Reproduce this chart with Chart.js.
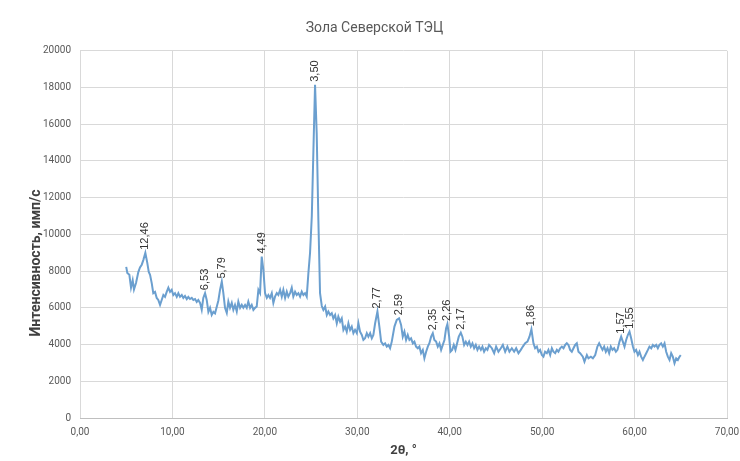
<!DOCTYPE html>
<html>
<head>
<meta charset="utf-8">
<title>Зола Северской ТЭЦ</title>
<script src="https://cdn.jsdelivr.net/npm/chart.js@4"></script>
<style>
    body { margin: 0; background: #ffffff; }
    #wrap { width: 740px; height: 461px; }
</style>
</head>
<body>
<div id="wrap"><canvas id="myChart" width="740" height="461"></canvas></div>
<script>
// datos
const twoTheta = [
    5.00, 5.12, 5.34, 5.52, 5.70, 5.84, 6.06, 6.31, 6.49, 6.68,
    6.85, 7.07, 7.28, 7.44, 7.58, 7.76, 7.93, 8.12, 8.30, 8.47,
    8.66, 8.84, 9.02, 9.20, 9.38, 9.56, 9.74, 9.92, 10.10, 10.28,
    10.47, 10.64, 10.82, 11.01, 11.18, 11.36, 11.55, 11.72, 11.90, 12.09,
    12.26, 12.45, 12.63, 12.80, 12.99, 13.17, 13.34, 13.53, 13.71, 13.89,
    14.07, 14.25, 14.43, 14.61, 14.79, 14.97, 15.15, 15.34, 15.51, 15.69,
    15.88, 16.05, 16.23, 16.42, 16.59, 16.77, 16.96, 17.13, 17.32, 17.50,
    17.67, 17.86, 18.04, 18.21, 18.40, 18.58, 18.76, 18.94, 19.12, 19.30,
    19.48, 19.66, 19.84, 20.02, 20.21, 20.38, 20.56, 20.75, 20.92, 21.10,
    21.29, 21.46, 21.65, 21.83, 22.00, 22.19, 22.37, 22.54, 22.73, 22.91,
    23.08, 23.27, 23.45, 23.63, 23.81, 23.99, 24.17, 24.35, 24.53, 24.71,
    24.89, 25.08, 25.25, 25.43, 25.61, 25.79, 25.97, 26.16, 26.33, 26.52,
    26.70, 26.87, 27.06, 27.24, 27.41, 27.60, 27.78, 27.95, 28.14, 28.32,
    28.50, 28.68, 28.86, 29.04, 29.22, 29.40, 29.58, 29.76, 29.95, 30.12,
    30.30, 30.49, 30.66, 30.84, 31.03, 31.20, 31.39, 31.57, 31.74, 31.93,
    32.18, 32.39, 32.58, 32.82, 33.01, 33.19, 33.37, 33.55, 33.73, 34.02,
    34.27, 34.52, 34.74, 34.92, 35.10, 35.28, 35.46, 35.64, 35.82, 36.01,
    36.18, 36.36, 36.55, 36.72, 36.90, 37.09, 37.26, 37.45, 37.63, 37.80,
    37.99, 38.17, 38.34, 38.53, 38.71, 38.89, 39.07, 39.25, 39.43, 39.61,
    39.75, 39.94, 40.08, 40.26, 40.44, 40.62, 40.80, 40.98, 41.20, 41.37,
    41.56, 41.74, 41.92, 42.10, 42.28, 42.46, 42.64, 42.82, 43.00, 43.18,
    43.37, 43.54, 43.72, 43.91, 44.08, 44.26, 44.56, 44.81, 45.02, 45.27,
    45.53, 45.75, 46.00, 46.24, 46.46, 46.72, 46.97, 47.19, 47.44, 47.69,
    47.91, 48.16, 48.41, 48.63, 48.84, 49.06, 49.24, 49.43, 49.60, 49.78,
    49.97, 50.14, 50.32, 50.51, 50.68, 50.87, 51.05, 51.22, 51.41, 51.59,
    51.76, 51.95, 52.13, 52.31, 52.49, 52.67, 52.85, 53.03, 53.21, 53.39,
    53.57, 53.75, 53.93, 54.11, 54.40, 54.58, 54.84, 55.01, 55.27, 55.49,
    55.74, 55.98, 56.17, 56.35, 56.53, 56.71, 56.89, 57.07, 57.25, 57.43,
    57.61, 57.79, 57.98, 58.15, 58.37, 58.55, 58.73, 58.91, 59.09, 59.27,
    59.45, 59.63, 59.82, 59.99, 60.17, 60.36, 60.53, 60.71, 60.90, 61.07,
    61.26, 61.44, 61.61, 61.80, 61.98, 62.15, 62.34, 62.52, 62.69, 62.88,
    63.06, 63.24, 63.42, 63.60, 63.78, 63.96, 64.14, 64.32, 64.50, 64.68,
    64.86, 65.00
];
const intensity = [
    8230, 7900, 7800, 7100, 7500, 7000, 7350, 7950, 8200, 8350,
    8600, 9000, 8450, 7950, 7800, 7350, 6800, 6870, 6540, 6430,
    6160, 6430, 6700, 6600, 6870, 7100, 6870, 6980, 6700, 6800,
    6600, 6800, 6600, 6700, 6540, 6650, 6480, 6600, 6480, 6540,
    6430, 6480, 6320, 6430, 6270, 5890, 6540, 6800, 6430, 5780,
    6000, 5610, 5780, 5700, 6050, 6400, 6980, 7430, 6800, 6000,
    5720, 6340, 6000, 6270, 5890, 6160, 5800, 6340, 6000, 6160,
    6000, 6160, 6000, 6340, 6000, 6160, 5890, 6000, 6070, 6980,
    6800, 8790, 8070, 6800, 6540, 6700, 6540, 6800, 6270, 6610,
    6800, 6700, 6980, 6610, 6980, 6540, 6880, 6610, 6800, 7090,
    6610, 6880, 6700, 6800, 6610, 6880, 6700, 6800, 6610, 7890,
    9000, 11000, 14500, 18150, 15500, 10800, 6800, 6100, 5890, 6070,
    5610, 5800, 5610, 5710, 5430, 5610, 5160, 5520, 5250, 5430,
    4800, 4980, 4700, 5160, 4800, 4980, 4620, 4800, 4620, 5160,
    4700, 4520, 4250, 4340, 4620, 4430, 4620, 4340, 4520, 5160,
    5800, 4980, 4160, 3980, 4070, 3890, 3980, 3800, 4160, 4980,
    5340, 5430, 5070, 4430, 4700, 4250, 4520, 4250, 4340, 4070,
    4160, 3890, 3800, 3890, 3530, 3710, 3250, 3610, 3890, 4070,
    4430, 4620, 4250, 4160, 3890, 4070, 3710, 3980, 4250, 4890,
    5120, 4430, 3610, 3710, 3980, 3710, 4070, 4430, 4650, 4430,
    3980, 4160, 3980, 4160, 3890, 4070, 3800, 3980, 3710, 3890,
    3710, 3890, 3610, 3800, 3710, 3980, 3800, 3530, 3890, 3610,
    3800, 3980, 3610, 3890, 3610, 3800, 3610, 3800, 3530, 3710,
    3890, 4070, 4160, 4430, 4830, 4070, 3800, 3890, 3610, 3710,
    3430, 3340, 3610, 3530, 3710, 3430, 3800, 3610, 3530, 3710,
    3610, 3800, 3890, 3800, 3980, 4070, 3980, 3710, 3610, 3800,
    3980, 4070, 3610, 3530, 3340, 3070, 3430, 3250, 3340, 3250,
    3430, 3890, 4070, 3890, 3710, 3890, 3610, 3800, 3530, 3890,
    3710, 3800, 3610, 3710, 4160, 4430, 4160, 3890, 4250, 4520,
    4700, 4340, 3890, 3610, 3710, 3430, 3610, 3340, 3160, 3340,
    3530, 3710, 3890, 3800, 3980, 3890, 3980, 3800, 3980, 4070,
    3890, 4070, 3610, 3340, 3160, 3530, 3340, 2980, 3250, 3160,
    3340, 3430
];
// picos marcados (d, A)
const peakTheta = [7.07, 13.53, 15.34, 19.66, 25.43, 32.18, 34.52, 38.17, 39.75, 41.20, 48.84, 58.55, 59.45];
const peakLabels = ["12,46", "6,53", "5,79", "4,49", "3,50", "2,77", "2,59", "2,35", "2,26", "2,17", "1,86", "1,57", "1,55"];
// ejes
const xTicks = [0, 10, 20, 30, 40, 50, 60, 70];
const xTickLabels = ["0,00", "10,00", "20,00", "30,00", "40,00", "50,00", "60,00", "70,00"];
const yTickLabels = ["0", "2000", "4000", "6000", "8000", "10000", "12000", "14000", "16000", "18000", "20000"];
const yTitle = "Интенсивность, имп/с";

(() => {
    const ctx = document.getElementById("myChart").getContext("2d");
    const tickFont = { family: "'Liberation Sans Narrow', 'Roboto', sans-serif", size: 10 };

    // etiquetas de los picos, giradas 90 grados
    const peakLabelPlugin = {
        id: "peakLabels",
        afterDatasetsDraw(chart) {
            const xs = chart.scales.x;
            const ys = chart.scales.y;
            const c = chart.ctx;
            c.save();
            c.font = "11px 'Liberation Sans', Arial, sans-serif";
            c.fillStyle = "#333333";
            c.textAlign = "left";
            c.textBaseline = "middle";
            peakTheta.forEach((t, i) => {
                // busca el punto mas cercano de la serie
                let k = 0;
                twoTheta.forEach((v, j) => { if (Math.abs(v - t) < Math.abs(twoTheta[k] - t)) k = j; });
                const px = xs.getPixelForValue(twoTheta[k]);
                const py = ys.getPixelForValue(intensity[k]);
                c.save();
                c.translate(px, py - 3);
                c.rotate(-Math.PI / 2);
                c.fillText(peakLabels[i], 0, 0);
                c.restore();
            });
            c.restore();
        }
    };

    // titulo del eje Y, un poco mas abajo que el centro (como en Excel)
    const yTitlePlugin = {
        id: "yTitle",
        afterDraw(chart) {
            const c = chart.ctx;
            c.save();
            c.font = "bold 14px Roboto, sans-serif";
            c.fillStyle = "#404040";
            c.textAlign = "center";
            c.textBaseline = "middle";
            c.translate(36, 263);
            c.rotate(-Math.PI / 2);
            c.fillText(yTitle, 0, 0);
            c.restore();
        }
    };

    const whiteBg = {
        id: "whiteBg",
        beforeDraw(chart) {
            const c = chart.ctx;
            c.save();
            c.fillStyle = "#ffffff";
            c.fillRect(0, 0, chart.width, chart.height);
            c.restore();
        }
    };

    new Chart(ctx, {
        type: "line",
        data: {
            datasets: [{
                data: twoTheta.map((x, i) => ({ x: x, y: intensity[i] })),
                borderColor: "#6b9fcf",
                borderWidth: 2,
                pointRadius: 0,
                tension: 0,
                fill: false
            }]
        },
        options: {
            responsive: false,
            animation: false,
            layout: { padding: { left: 22, right: 13, top: 0, bottom: 0 } },
            plugins: {
                legend: { display: false },
                tooltip: { enabled: false },
                title: {
                    display: true,
                    text: "Зола Северской ТЭЦ",
                    color: "#595959",
                    font: { family: "Roboto, sans-serif", size: 14, weight: "normal" },
                    padding: { top: 20, bottom: 14 }
                }
            },
            scales: {
                x: {
                    type: "linear",
                    min: 0,
                    max: 70,
                    afterBuildTicks: (scale) => { scale.ticks = xTicks.map(v => ({ value: v })); },
                    afterFit: (scale) => {
                        scale.height = 43;
                        scale.paddingLeft = 0;
                        scale.paddingRight = 0;
                    },
                    ticks: {
                        color: "#595959",
                        font: tickFont,
                        padding: 8,
                        maxRotation: 0,
                        callback: (v, i) => xTickLabels[i]
                    },
                    grid: { color: "#d9d9d9", drawTicks: false },
                    border: { color: "#bfbfbf" },
                    title: {
                        display: true,
                        text: "2θ, °",
                        color: "#404040",
                        font: { family: "Roboto, sans-serif", size: 13, weight: "bold" },
                        padding: { top: 2, bottom: 2 }
                    }
                },
                y: {
                    min: 0,
                    max: 20000,
                    ticks: {
                        stepSize: 2000,
                        color: "#595959",
                        font: tickFont,
                        padding: 9,
                        callback: (v, i) => yTickLabels[i]
                    },
                    afterFit: (scale) => { scale.width = 58; },
                    grid: { color: "#d9d9d9", drawTicks: false },
                    border: { display: false }
                }
            }
        },
        plugins: [whiteBg, peakLabelPlugin, yTitlePlugin]
    });
})();
</script>
</body>
</html>
